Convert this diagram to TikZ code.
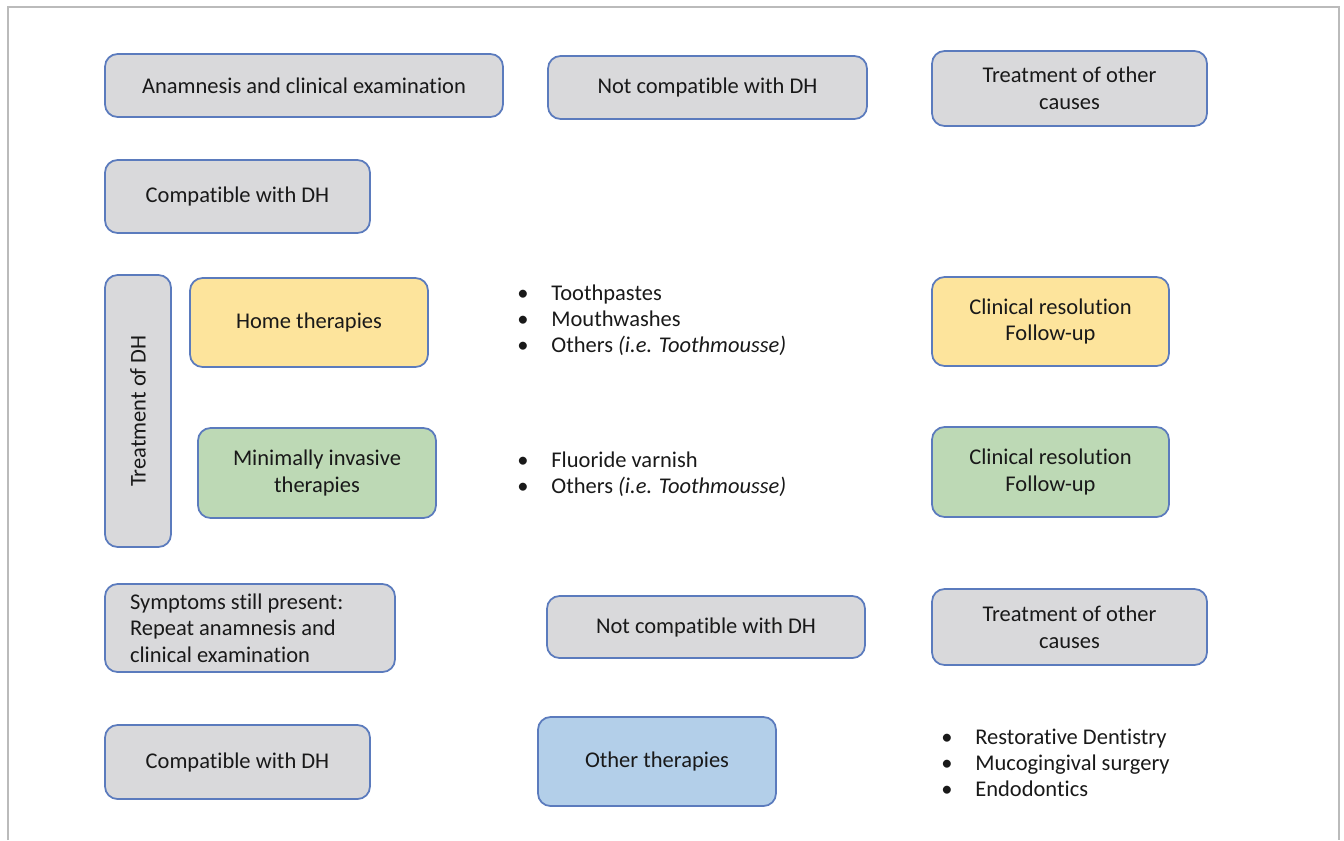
\documentclass[tikz,border=0pt]{standalone}
\usepackage{fontspec}
\setmainfont{Carlito}[Ligatures=NoCommon]
\usepackage{tikz}
\usetikzlibrary{positioning}
\definecolor{boxgray}{HTML}{D9D9DB}
\definecolor{boxline}{HTML}{5B7BBD}
\definecolor{homeyellow}{HTML}{FDE49C}
\definecolor{mingreen}{HTML}{BDD9B5}
\definecolor{otherblue}{HTML}{B3CFE9}
\definecolor{framegray}{HTML}{BBBBBB}
\tikzset{
    stagebox/.style={rectangle, rounded corners=0.25cm, draw=boxline, line width=1pt, fill=boxgray, align=center, text=black!90, font=\fontsize{12.8}{15.2}\selectfont},
    homebox/.style={stagebox, fill=homeyellow},
    minbox/.style={stagebox, fill=mingreen},
    otherbox/.style={stagebox, fill=otherblue},
    bulletlist/.style={anchor=west, align=left, inner sep=0pt, text=black!90, font=\fontsize{12.8}{14.8}\selectfont}
}
\newcommand{\itm}{\textbullet\hspace{13pt}}

\begin{document}
\begin{tikzpicture}[x=0.02cm, y=-0.02cm]
    \useasboundingbox (0,0) rectangle (1344,840);
    % Frame
    \draw[framegray, line width=0.8pt] (8,840) -- (8,7) -- (1339,7) -- (1339,840);

    % Row 1
    \node[stagebox, minimum width=7.96cm, minimum height=1.26cm] (anam) at (304,85.5) {Anamnesis and clinical examination};
    \node[stagebox, minimum width=6.38cm, minimum height=1.26cm] (notdh) at (707.5,87.5) {Not compatible with DH};
    \node[stagebox, minimum width=5.5cm, minimum height=1.5cm] (othercause) at (1069.5,88.5) {Treatment of other\\causes};

    % Row 2
    \node[stagebox, minimum width=5.3cm, minimum height=1.46cm] (compdh) at (237.5,196.5) {Compatible with DH};

    % Treatment of DH
    \node[stagebox, rotate=90, minimum width=5.44cm, minimum height=1.32cm] (treatdh) at (138,411) {Treatment of DH};
    \node[homebox, minimum width=4.76cm, minimum height=1.78cm] (home) at (309,322.5) {Home therapies};
    \node[minbox, minimum width=4.76cm, minimum height=1.8cm] (mininv) at (317,473) {Minimally invasive\\therapies};

    \node[bulletlist] (homelist) at (517,320.5) {\itm Toothpastes\\\itm Mouthwashes\\\itm Others \textit{(i.e. Toothmousse)}};
    \node[bulletlist] (minlist) at (517,474.5) {\itm Fluoride varnish\\\itm Others \textit{(i.e. Toothmousse)}};

    \node[homebox, minimum width=4.74cm, minimum height=1.78cm] (homeres) at (1050.5,321.5) {Clinical resolution\\Follow-up};
    \node[minbox, minimum width=4.74cm, minimum height=1.8cm] (minres) at (1050.5,472) {Clinical resolution\\Follow-up};

    % Row 5
    \node[stagebox, align=flush left, text width=4.8cm, inner xsep=0.5cm, minimum width=5.8cm, minimum height=1.76cm] (symp) at (250,628) {Symptoms still present:\\Repeat anamnesis and\\clinical examination};
    \node[stagebox, minimum width=6.36cm, minimum height=1.24cm] (notdhb) at (706,627) {Not compatible with DH};
    \node[stagebox, minimum width=5.5cm, minimum height=1.52cm] (othercauseb) at (1069.5,627) {Treatment of other\\causes};

    % Row 6
    \node[stagebox, minimum width=5.3cm, minimum height=1.48cm] (compdhb) at (237.5,762) {Compatible with DH};
    \node[otherbox, minimum width=4.76cm, minimum height=1.78cm] (otherther) at (657,761.5) {Other therapies};
    \node[bulletlist] (otherlist) at (941,762.5) {\itm Restorative Dentistry\\\itm Mucogingival surgery\\\itm Endodontics};
\end{tikzpicture}
\end{document}
